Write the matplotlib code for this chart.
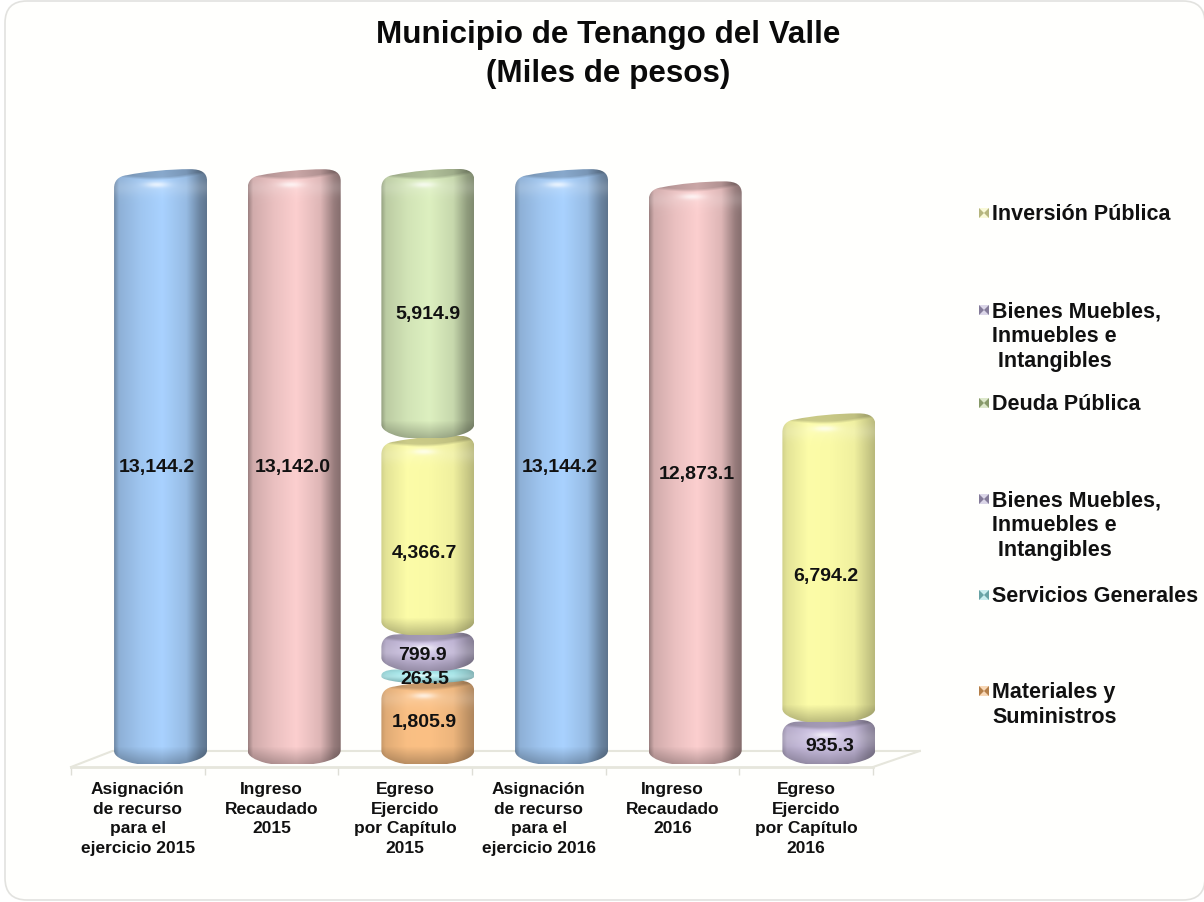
#!/bin/env python3

import numpy as np
import matplotlib
matplotlib.use('Agg')
import matplotlib.pyplot as plt
from matplotlib.patches import FancyBboxPatch, PathPatch, Polygon, Rectangle
from matplotlib.path import Path
from matplotlib.colors import to_rgb

plt.rcParams['font.family'] = ['Liberation Sans', 'DejaVu Sans']
plt.rcParams['font.weight'] = 'bold'

categories = ['Asignación\nde recurso\npara el\nejercicio 2015',
              'Ingreso\nRecaudado\n2015',
              'Egreso\nEjercido\npor Capítulo\n2015',
              'Asignación\nde recurso\npara el\nejercicio 2016',
              'Ingreso\nRecaudado\n2016',
              'Egreso\nEjercido\npor Capítulo\n2016']

asignacion = [13144.2, 0, 0, 13144.2, 0, 0]
ingreso = [0, 13142.0, 0, 0, 12873.1, 0]
materiales = [0, 0, 1805.9, 0, 0, 0]
servicios = [0, 0, 263.5, 0, 0, 0]
bienes = [0, 0, 799.9, 0, 0, 935.3]
inversion = [0, 0, 4366.7, 0, 0, 6794.2]
deuda = [0, 0, 5914.9, 0, 0, 0]

# series in stacking order, with peak colour and how dark the sides get
series = [
    (asignacion, '#A9D2FF', 0.58),
    (ingreso, '#FCCFCF', 0.55),
    (materiales, '#FBC084', 0.72),
    (servicios, '#A9EBEE', 0.78),
    (bienes, '#CDC1E4', 0.66),
    (inversion, '#FAFAA6', 0.76),
    (deuda, '#DDF0C0', 0.60),
]

# legend, top to bottom
legend_labels = ['Inversión Pública', 'Bienes Muebles,\nInmuebles e\n Intangibles',
                 'Deuda Pública', 'Bienes Muebles,\nInmuebles e\n Intangibles',
                 'Servicios Generales', 'Materiales y\nSuministros']
legend_colors = ['#F2F2A8', '#B0A4CC', '#B4CC8C', '#B0A4CC', '#8AD8DC', '#F0A860']
legend_y = [214, 311, 404, 500, 596, 692]

# label nudges in pixels, negative is down (series index, category index)
label_nudge = {(0, 0): (-4, -1), (1, 1): (-1.5, -1), (2, 2): (-4, 0), (3, 2): (-3, -4),
               (4, 2): (-5, -4), (5, 2): (-3, -18), (6, 2): (0, -11), (0, 3): (-2, -1),
               (1, 4): (1.5, -2), (4, 5): (1, -5), (5, 5): (-3, -9)}

PX_X = 1 / 133.67   # data units per pixel, horizontally
PX_Y = 22.17        # data units per pixel, vertically
OFFSET = 0.17       # the 3d look moves the bars right of their tick slot

fig = plt.figure(figsize=(12.04, 9.03), dpi=100, facecolor='white')

# pixel canvas for the frame and the legend keys
bg = fig.add_axes([0, 0, 1, 1], zorder=0)
bg.set_xlim(0, 1204)
bg.set_ylim(903, 0)
bg.axis('off')
bg.add_patch(FancyBboxPatch((25, 22), 1160, 859, boxstyle='round,pad=20,rounding_size=22',
                            fc='#FFFFFD', ec='#E2E2DF', lw=1.2))

ax = fig.add_axes([71 / 1204, (903 - 768) / 903, 802 / 1204, (768 - 150) / 903], zorder=1)
ax.patch.set_alpha(0)
ax.set_xlim(-0.5, 5.5)
ax.set_ylim(-111, 13591)


def segment_path(x0, x1, y0, y1):
    h = (y1 - y0) / PX_Y
    k = min(1.0, h / 30)
    # short segments look like pillows, only tall ones show the tilted top
    tl = 6 if h > 80 else 2

    def p(u, top, v):
        # u across in pixels, v pixels away from the top or bottom edge
        if top:
            return (x0 + u * PX_X, y1 + v * PX_Y * k)
        return (x0 + u * PX_X, y0 + v * PX_Y * k)

    verts = [p(0, True, -13 - tl),
             p(0, True, -6 - tl), p(4, True, -1 - tl), p(13, True, -tl),
             p(30, True, -tl * 0.4), p(55, True, 0), p(76, True, 0),
             p(88, True, 0), p(93, True, -4), p(93, True, -12),
             p(93, False, 14),
             p(93, False, 8), p(86, False, 4), p(72, False, 1),
             p(55, False, -2), p(32, False, -2), p(18, False, 1),
             p(7, False, 4), p(0, False, 8), p(0, False, 13),
             p(0, True, -13 - tl)]
    codes = [Path.MOVETO] + [Path.CURVE4] * 9 + [Path.LINETO] + [Path.CURVE4] * 9 + [Path.CLOSEPOLY]
    return Path(verts, codes)


def shading(color, dark, height):
    nx = 93
    ny = max(int(height), 2)
    u = np.linspace(0, 1, nx)[None, :]
    yy = np.arange(ny)[:, None].astype(float)
    k = min(1.0, ny / 36)

    # round body: dark sides, bright stripe a bit right of the middle
    mid = dark + 0.62 * (1 - dark)
    body = np.interp(u, [0, 0.05, 0.28, 0.52, 0.78, 0.93, 1],
                     [dark + 0.08, mid, mid + 0.1, 1.0, mid + 0.05, dark + 0.05, dark - 0.02])
    img = np.array(to_rgb(color))[None, None, :] * body[:, :, None]

    # bottom rolls off, darker towards the lower rim
    from_bottom = ny - yy
    roll = np.clip(from_bottom / (18 * k), 0, 1)
    img = img * (0.74 + 0.26 * roll)[:, :, None]

    # darker lens on the top, soft lower edge
    lens = np.clip(((7 + 5 * np.sin(np.pi * u) - 3 * u) * k - yy) / 3, 0, 1)
    img = img * (1 - 0.2 * k * lens)[:, :, None]

    # soft highlight right under the lens
    glow = 0.6 * np.exp(-((u - 0.46) / 0.13) ** 2 - ((yy - 15 * k) / (3 * k)) ** 2)
    band = 0.14 * np.exp(-((yy - 18 * k) / (8 * k)) ** 2)
    img = img + (1 - img) * (glow + band)[:, :, None]
    return np.clip(img, 0, 1)


x = np.arange(len(categories)) + OFFSET
bottom = np.zeros(len(categories))
for i, (values, color, dark) in enumerate(series):
    rects = ax.bar(x, values, width=93 * PX_X, bottom=bottom, color='none', linewidth=0)
    for j, rect in enumerate(rects):
        v = values[j]
        if v == 0:
            continue
        x0 = rect.get_x()
        x1 = x0 + rect.get_width()
        y0 = rect.get_y() - 2 * PX_Y
        y1 = rect.get_y() + rect.get_height()
        zo = 2 + i * 0.1
        patch = PathPatch(segment_path(x0, x1, y0, y1), fc='none', ec='none', zorder=zo)
        patch.set_clip_on(False)
        ax.add_patch(patch)
        im = ax.imshow(shading(color, dark, (y1 - y0) / PX_Y), extent=(x0, x1, y0, y1),
                       aspect='auto', origin='upper', zorder=zo, interpolation='bilinear')
        im.set_clip_path(patch)
        im.set_clip_box(fig.bbox)
        dx, dy = label_nudge.get((i, j), (-3, -1))
        ax.annotate(f'{v:,.1f}', (x[j], bottom[j] + v / 2), xytext=(dx * 0.72, dy * 0.72),
                    textcoords='offset points', ha='center', va='center',
                    fontsize=14, color='#111111', zorder=5)
    bottom = bottom + np.array(values)

ax.set_xlim(-0.5, 5.5)
ax.set_ylim(-111, 13591)

# floor of the 3d box
floor = '#E6E6DC'
back_y = 244
ax.plot([-0.5, -0.19, 5.85], [-111, back_y, back_y], color=floor, lw=1.5, zorder=1, clip_on=False)
ax.plot([5.5, 5.85], [-111, back_y], color=floor, lw=1.5, zorder=1, clip_on=False)

for side in ['top', 'left', 'right']:
    ax.spines[side].set_visible(False)
ax.spines['bottom'].set_color(floor)
ax.spines['bottom'].set_linewidth(2)
ax.set_yticks([])
ax.set_xticks(range(len(categories)))
ax.set_xticklabels(categories, fontsize=12.5, color='#111111', linespacing=1.4)
ax.tick_params(axis='x', which='major', length=0, pad=10)
ax.set_xticks(np.arange(-0.5, 6), minor=True)
ax.tick_params(axis='x', which='minor', length=6, width=1, color='#DEDED6')

fig.suptitle('Municipio de Tenango del Valle\n(Miles de pesos)', x=608 / 1204, y=1 - 20 / 903,
             va='top', ha='center', fontsize=22.6, fontweight='bold', color='#0A0A0A', linespacing=1.39)

# legend keys are small envelope squares
for label, color, y in zip(legend_labels, legend_colors, legend_y):
    rgb = np.array(to_rgb(color))
    light = rgb + (1 - rgb) * 0.55
    bg.add_patch(Rectangle((979, y - 5), 10, 10, fc=light, ec='none'))
    bg.add_patch(Polygon([(979, y - 5), (984, y), (979, y + 5)], fc=rgb * 0.75, ec='none'))
    bg.add_patch(Polygon([(989, y - 5), (984, y), (989, y + 5)], fc=rgb * 0.75, ec='none'))
    bg.text(992, y - 9.5, label, fontsize=15.5, color='#111111', va='top', ha='left', linespacing=1.24)

fig.savefig('out.png', dpi=100)
